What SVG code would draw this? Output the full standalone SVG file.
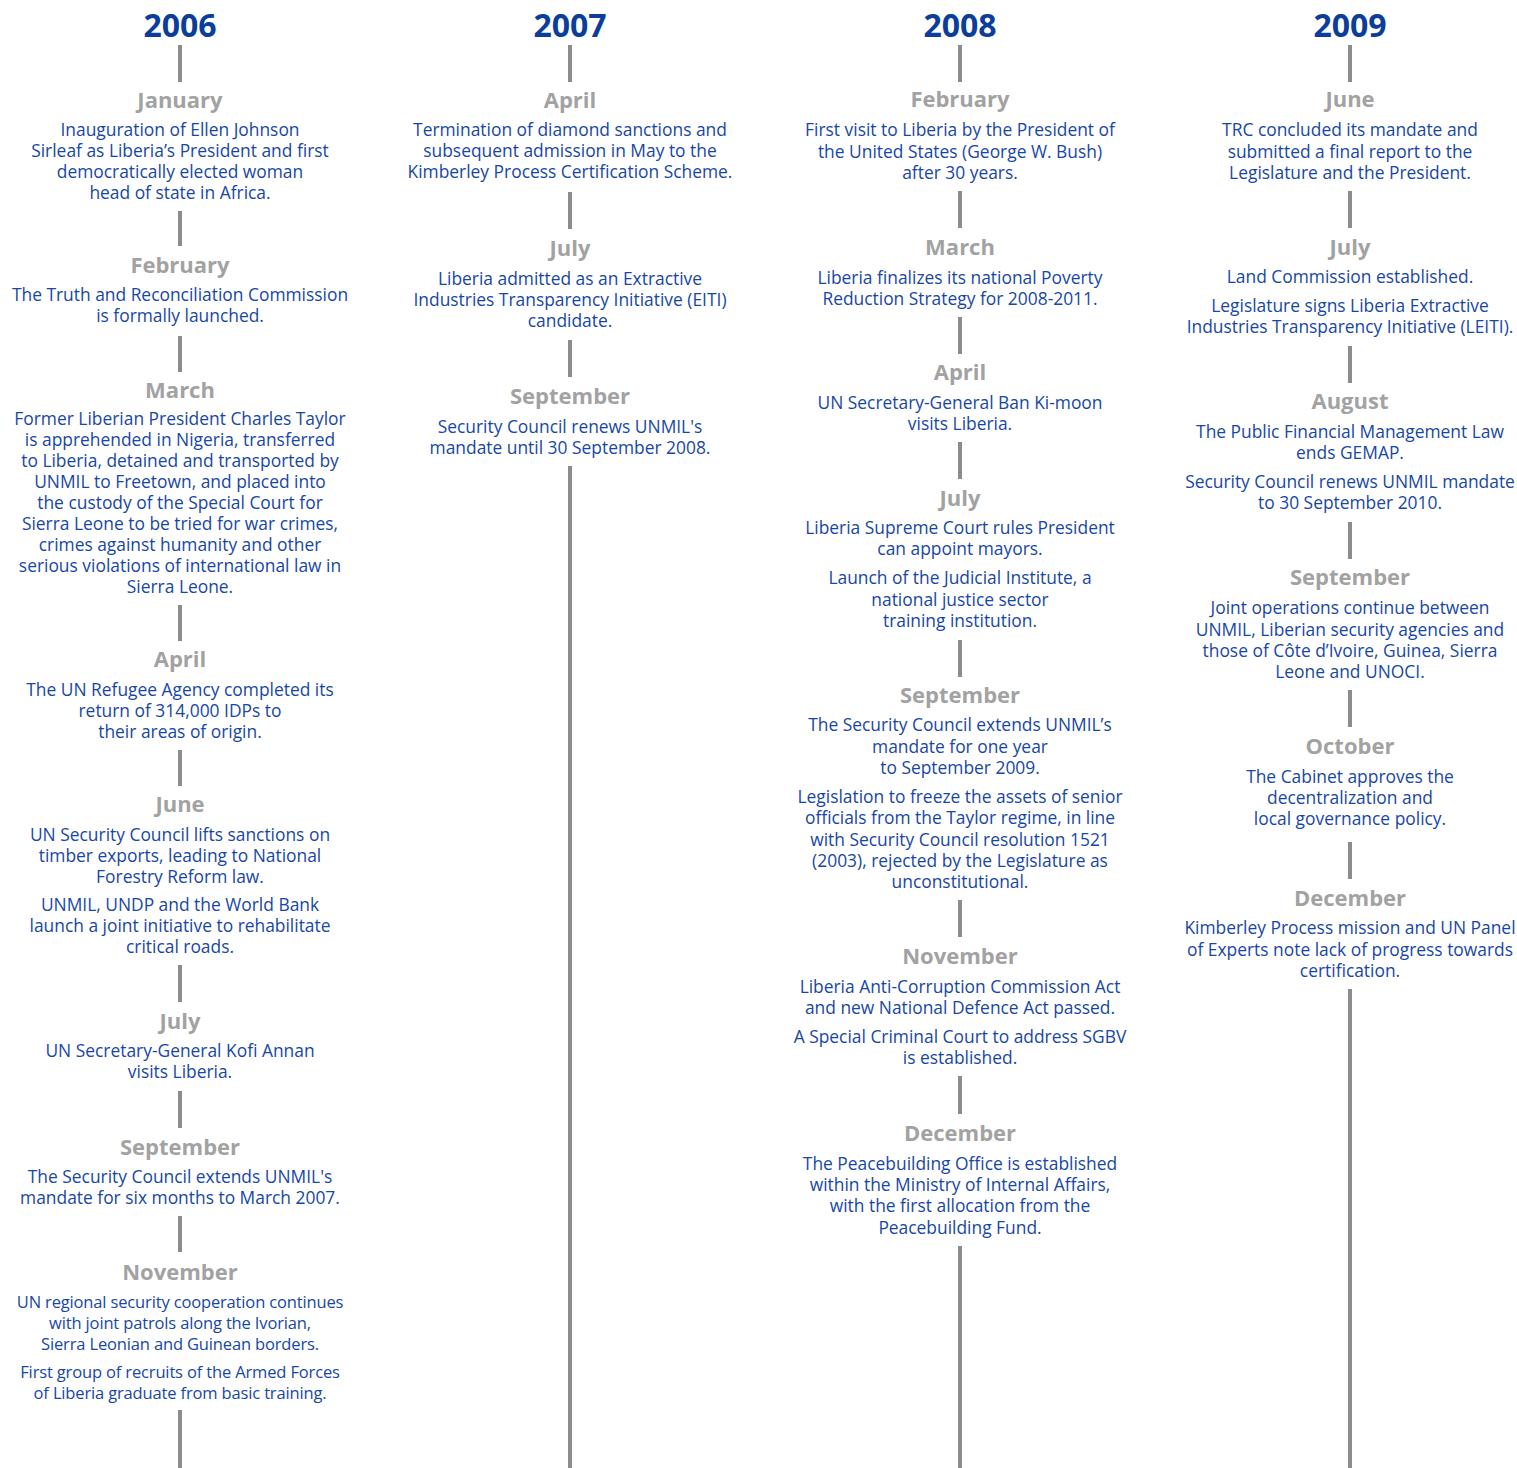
<svg xmlns="http://www.w3.org/2000/svg" width="1517" height="1468" viewBox="0 0 1517 1468">
<style>
text{font-family:"Open Sans","Noto Sans","Liberation Sans",sans-serif;text-anchor:middle}
.yr{font-size:32px;font-weight:700;fill:#0a3d9c}
.mo{font-size:22px;font-weight:700;fill:#a2a2a2}
.tx{font-size:17.4px;fill:#1747a6}
.cn{font-size:16.5px;letter-spacing:-0.15px}
.ln{stroke:#8a8c8e;stroke-width:4;fill:none}
</style>
<rect width="1517" height="1468" fill="#fff"/>
<g id="connectors">
<path class="ln" d="M180 45V82M180 211V246M180 336V372M180 605V641M180 750V786M180 965V1002M180 1091V1128M180 1216V1252M180 1410V1468"/>
<path class="ln" d="M570 45V82M570 192V229M570 340V377M570 466V1468"/>
<path class="ln" d="M960 45V82M960 191V228M960 317V354M960 442V479M960 640V677M960 900V937M960 1076V1114M960 1246V1468"/>
<path class="ln" d="M1350 45V82M1350 191V228M1350 346V383M1350 522V559M1350 690V727M1350 842V879M1350 989V1468"/>
</g>
<g id="y2006"><text class="yr" x="180" y="37">2006</text></g>
<g id="y2007"><text class="yr" x="570" y="37">2007</text></g>
<g id="y2008"><text class="yr" x="960" y="37">2008</text></g>
<g id="y2009"><text class="yr" x="1350" y="37">2009</text></g>

<g id="n2006-jan"><text class="mo" x="180" y="108">January</text>
<text class="tx" x="180"><tspan x="180" y="135.5">Inauguration of Ellen Johnson</tspan><tspan x="180" y="156.5">Sirleaf as Liberia’s President and first</tspan><tspan x="180" y="177.5">democratically elected woman</tspan><tspan x="180" y="198.5">head of state in Africa.</tspan></text></g>
<g id="n2006-feb"><text class="mo" x="180" y="273">February</text>
<text class="tx"><tspan x="180" y="301">The Truth and Reconciliation Commission</tspan><tspan x="180" y="322">is formally launched.</tspan></text></g>
<g id="n2006-mar"><text class="mo" x="180" y="398">March</text>
<text class="tx"><tspan x="180" y="425">Former Liberian President Charles Taylor</tspan><tspan x="180" y="446">is apprehended in Nigeria, transferred</tspan><tspan x="180" y="467">to Liberia, detained and transported by</tspan><tspan x="180" y="488">UNMIL to Freetown, and placed into</tspan><tspan x="180" y="509">the custody of the Special Court for</tspan><tspan x="180" y="530">Sierra Leone to be tried for war crimes,</tspan><tspan x="180" y="551">crimes against humanity and other</tspan><tspan x="180" y="572">serious violations of international law in</tspan><tspan x="180" y="593">Sierra Leone.</tspan></text></g>
<g id="n2006-apr"><text class="mo" x="180" y="667">April</text>
<text class="tx"><tspan x="180" y="695.5">The UN Refugee Agency completed its</tspan><tspan x="180" y="716.5">return of 314,000 IDPs to</tspan><tspan x="180" y="737.5">their areas of origin.</tspan></text></g>
<g id="n2006-jun"><text class="mo" x="180" y="812">June</text>
<text class="tx"><tspan x="180" y="840.5">UN Security Council lifts sanctions on</tspan><tspan x="180" y="861.5">timber exports, leading to National</tspan><tspan x="180" y="882.5">Forestry Reform law.</tspan></text>
<text class="tx"><tspan x="180" y="910.5">UNMIL, UNDP and the World Bank</tspan><tspan x="180" y="931.5">launch a joint initiative to rehabilitate</tspan><tspan x="180" y="952.5">critical roads.</tspan></text></g>
<g id="n2006-jul"><text class="mo" x="180" y="1029">July</text>
<text class="tx"><tspan x="180" y="1057">UN Secretary-General Kofi Annan</tspan><tspan x="180" y="1078">visits Liberia.</tspan></text></g>
<g id="n2006-sep"><text class="mo" x="180" y="1155">September</text>
<text class="tx"><tspan x="180" y="1183">The Security Council extends UNMIL's</tspan><tspan x="180" y="1204">mandate for six months to March 2007.</tspan></text></g>
<g id="n2006-nov"><text class="mo" x="180" y="1280">November</text>
<text class="tx cn"><tspan x="180" y="1308">UN regional security cooperation continues</tspan><tspan x="180" y="1328.75">with joint patrols along the Ivorian,</tspan><tspan x="180" y="1349.5">Sierra Leonian and Guinean borders.</tspan></text>
<text class="tx cn"><tspan x="180" y="1378">First group of recruits of the Armed Forces</tspan><tspan x="180" y="1398.75">of Liberia graduate from basic training.</tspan></text></g>

<g id="n2007-apr"><text class="mo" x="570" y="108">April</text>
<text class="tx"><tspan x="570" y="136">Termination of diamond sanctions and</tspan><tspan x="570" y="157">subsequent admission in May to the</tspan><tspan x="570" y="178">Kimberley Process Certification Scheme.</tspan></text></g>
<g id="n2007-jul"><text class="mo" x="570" y="256">July</text>
<text class="tx"><tspan x="570" y="285">Liberia admitted as an Extractive</tspan><tspan x="570" y="306">Industries Transparency Initiative (EITI)</tspan><tspan x="570" y="327">candidate.</tspan></text></g>
<g id="n2007-sep"><text class="mo" x="570" y="404">September</text>
<text class="tx"><tspan x="570" y="433">Security Council renews UNMIL's</tspan><tspan x="570" y="454">mandate until 30 September 2008.</tspan></text></g>

<g id="n2008-feb"><text class="mo" x="960" y="107">February</text>
<text class="tx"><tspan x="960" y="136">First visit to Liberia by the President of</tspan><tspan x="960" y="158">the United States (George W. Bush)</tspan><tspan x="960" y="179">after 30 years.</tspan></text></g>
<g id="n2008-mar"><text class="mo" x="960" y="255">March</text>
<text class="tx"><tspan x="960" y="284">Liberia finalizes its national Poverty</tspan><tspan x="960" y="305">Reduction Strategy for 2008-2011.</tspan></text></g>
<g id="n2008-apr"><text class="mo" x="960" y="380">April</text>
<text class="tx"><tspan x="960" y="409">UN Secretary-General Ban Ki-moon</tspan><tspan x="960" y="430">visits Liberia.</tspan></text></g>
<g id="n2008-jul"><text class="mo" x="960" y="506">July</text>
<text class="tx"><tspan x="960" y="534">Liberia Supreme Court rules President</tspan><tspan x="960" y="555">can appoint mayors.</tspan></text>
<text class="tx"><tspan x="960" y="584">Launch of the Judicial Institute, a</tspan><tspan x="960" y="606">national justice sector</tspan><tspan x="960" y="627">training institution.</tspan></text></g>
<g id="n2008-sep"><text class="mo" x="960" y="703">September</text>
<text class="tx"><tspan x="960" y="731">The Security Council extends UNMIL’s</tspan><tspan x="960" y="753">mandate for one year</tspan><tspan x="960" y="774">to September 2009.</tspan></text>
<text class="tx"><tspan x="960" y="803">Legislation to freeze the assets of senior</tspan><tspan x="960" y="824">officials from the Taylor regime, in line</tspan><tspan x="960" y="846">with Security Council resolution 1521</tspan><tspan x="960" y="867">(2003), rejected by the Legislature as</tspan><tspan x="960" y="888">unconstitutional.</tspan></text></g>
<g id="n2008-nov"><text class="mo" x="960" y="964">November</text>
<text class="tx"><tspan x="960" y="993">Liberia Anti-Corruption Commission Act</tspan><tspan x="960" y="1014">and new National Defence Act passed.</tspan></text>
<text class="tx"><tspan x="960" y="1043">A Special Criminal Court to address SGBV</tspan><tspan x="960" y="1064">is established.</tspan></text></g>
<g id="n2008-dec"><text class="mo" x="960" y="1141">December</text>
<text class="tx"><tspan x="960" y="1170">The Peacebuilding Office is established</tspan><tspan x="960" y="1191">within the Ministry of Internal Affairs,</tspan><tspan x="960" y="1212">with the first allocation from the</tspan><tspan x="960" y="1234">Peacebuilding Fund.</tspan></text></g>

<g id="n2009-jun"><text class="mo" x="1350" y="107">June</text>
<text class="tx"><tspan x="1350" y="136">TRC concluded its mandate and</tspan><tspan x="1350" y="158">submitted a final report to the</tspan><tspan x="1350" y="179">Legislature and the President.</tspan></text></g>
<g id="n2009-jul"><text class="mo" x="1350" y="255">July</text>
<text class="tx"><tspan x="1350" y="283">Land Commission established.</tspan></text>
<text class="tx"><tspan x="1350" y="312">Legislature signs Liberia Extractive</tspan><tspan x="1350" y="333">Industries Transparency Initiative (LEITI).</tspan></text></g>
<g id="n2009-aug"><text class="mo" x="1350" y="409">August</text>
<text class="tx"><tspan x="1350" y="438">The Public Financial Management Law</tspan><tspan x="1350" y="459">ends GEMAP.</tspan></text>
<text class="tx"><tspan x="1350" y="488">Security Council renews UNMIL mandate</tspan><tspan x="1350" y="509">to 30 September 2010.</tspan></text></g>
<g id="n2009-sep"><text class="mo" x="1350" y="585">September</text>
<text class="tx"><tspan x="1350" y="614">Joint operations continue between</tspan><tspan x="1350" y="636">UNMIL, Liberian security agencies and</tspan><tspan x="1350" y="657">those of Côte d’Ivoire, Guinea, Sierra</tspan><tspan x="1350" y="678">Leone and UNOCI.</tspan></text></g>
<g id="n2009-oct"><text class="mo" x="1350" y="754">October</text>
<text class="tx"><tspan x="1350" y="783">The Cabinet approves the</tspan><tspan x="1350" y="804">decentralization and</tspan><tspan x="1350" y="825">local governance policy.</tspan></text></g>
<g id="n2009-dec"><text class="mo" x="1350" y="906">December</text>
<text class="tx"><tspan x="1350" y="934">Kimberley Process mission and UN Panel</tspan><tspan x="1350" y="956">of Experts note lack of progress towards</tspan><tspan x="1350" y="977">certification.</tspan></text></g>
</svg>
